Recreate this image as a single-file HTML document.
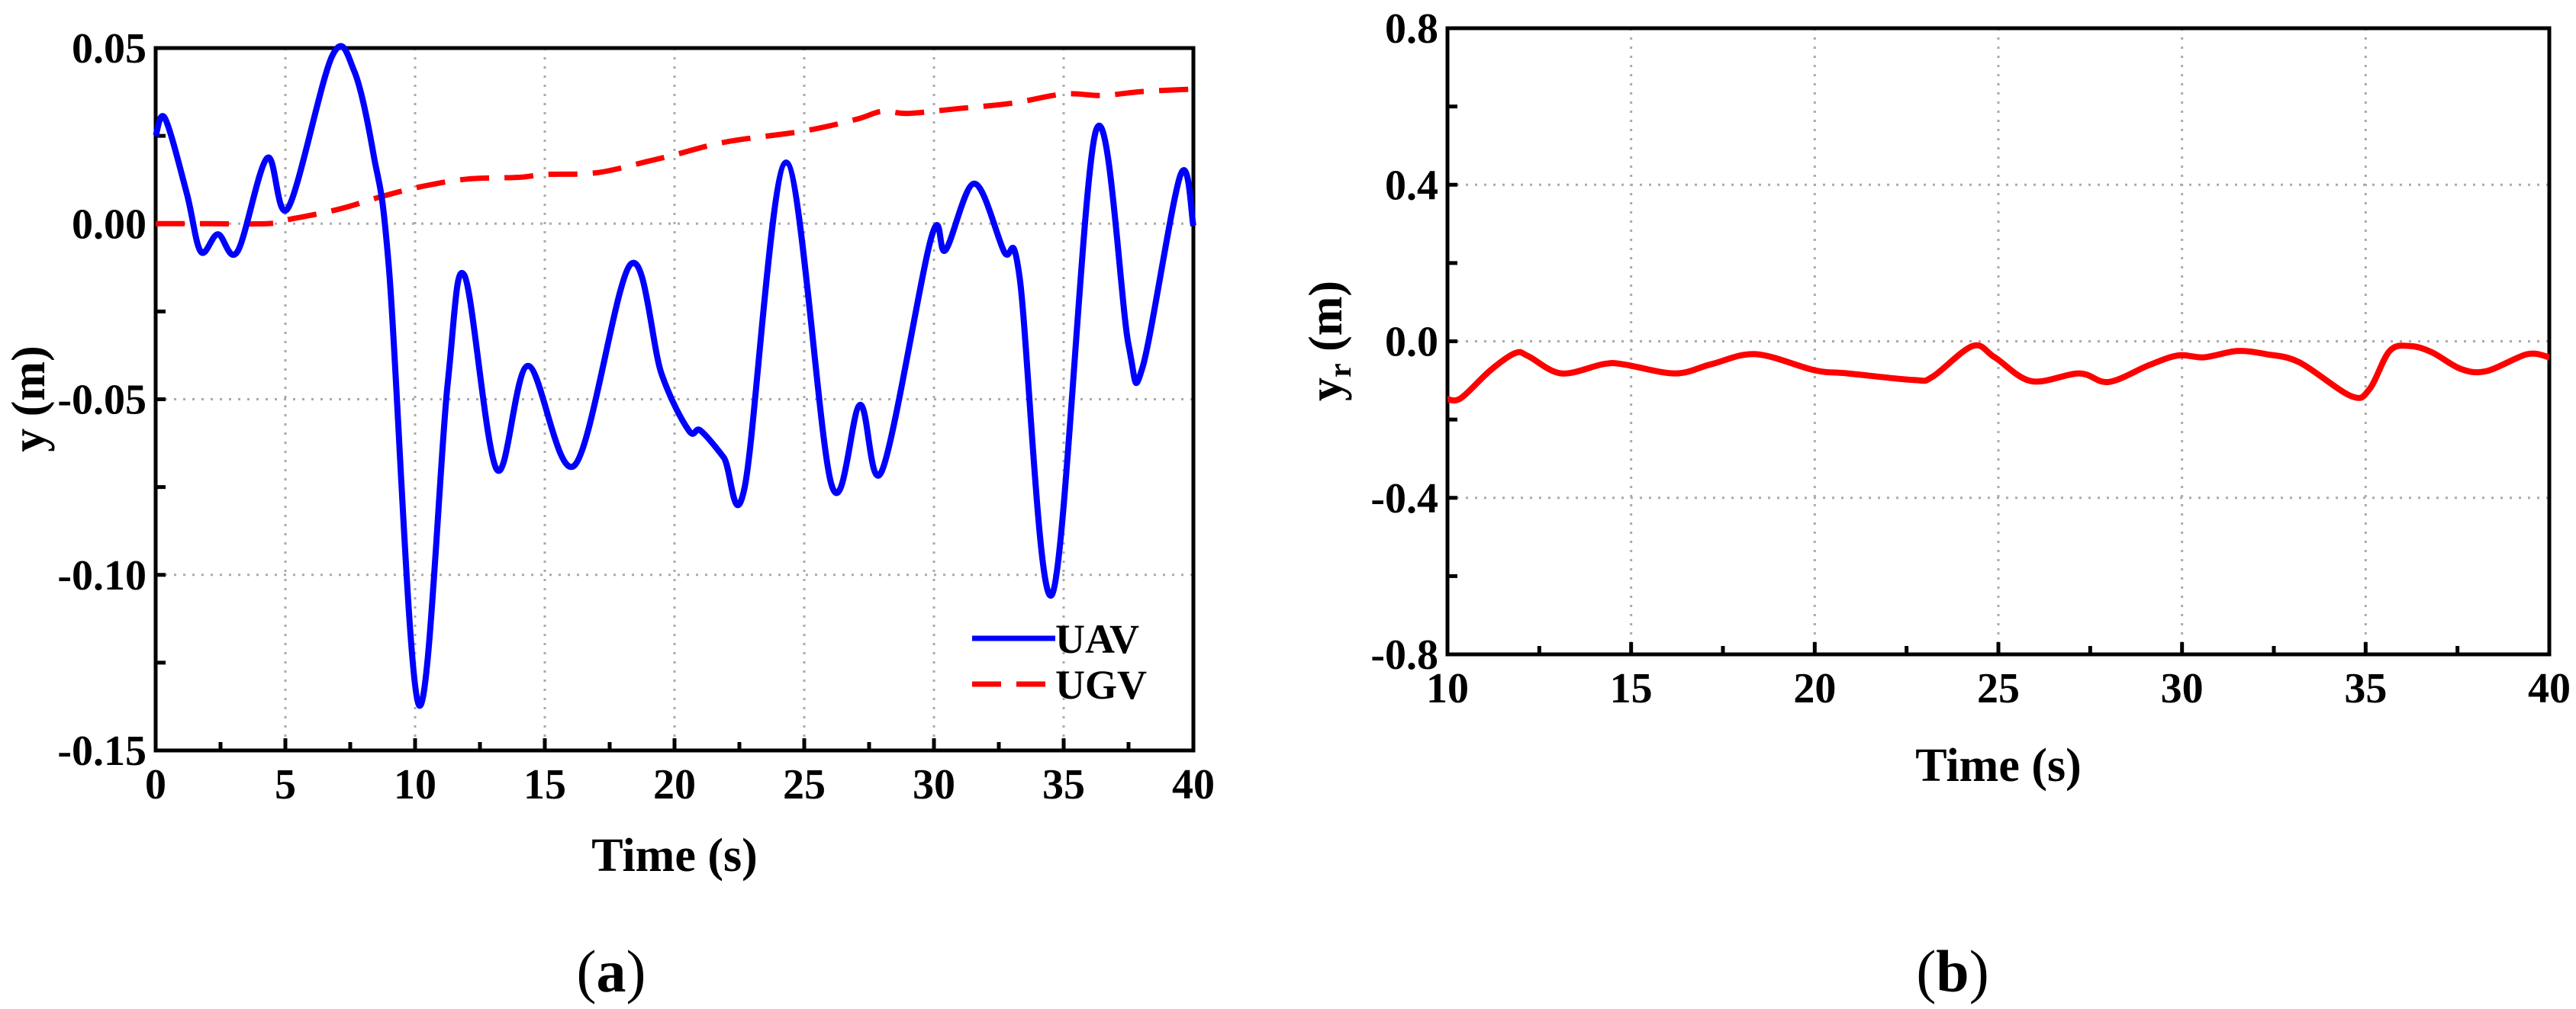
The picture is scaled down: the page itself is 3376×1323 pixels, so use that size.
<!DOCTYPE html>
<html><head><meta charset="utf-8"><style>
html,body{margin:0;padding:0;background:#fff}
svg{display:block}
text{font-family:"Liberation Serif",serif;font-weight:bold;fill:#000}
</style></head><body>
<svg id="fig" width="3376" height="1323" viewBox="0 0 3376 1323" xmlns="http://www.w3.org/2000/svg">
<g id="pa"></g>
<g id="pb"></g>
<text x="801" y="1300" font-size="78" text-anchor="middle"><tspan font-weight="normal">(</tspan>a<tspan font-weight="normal">)</tspan></text>
<text x="2559" y="1300" font-size="78" text-anchor="middle"><tspan font-weight="normal">(</tspan>b<tspan font-weight="normal">)</tspan></text>
</svg>
<script>
const uavT=[0,0.36,1.2,1.74,2.4,3.15,4.3,5.1,6.8,7.65,8.4,9,10.14,11.25,11.9,13.15,14.35,16.15,18.3,19.5,20.55,21,21.9,22.7,24.3,26.05,27.15,28,29.9,30.45,31.56,32.7,33.3,34.56,36.24,37.5,38.04,39.5,40];
const uavY=[0.025,0.030,0.0086,-0.008,-0.003,-0.008,0.0187,0.0044,0.0477,0.0435,0.0196,-0.0134,-0.137,-0.046,-0.0147,-0.070,-0.0405,-0.0688,-0.0116,-0.0428,-0.0589,-0.0589,-0.0666,-0.0752,0.0174,-0.0743,-0.0516,-0.0703,-0.0039,-0.0075,0.0114,-0.0079,-0.0152,-0.1055,0.0264,-0.0345,-0.0409,0.0138,-0.0006];
const ugvT=[0,2,4.3,5,7,8.7,10.2,12,14,15,17,19,20,22,25,27,28,29,31,33,35,36.5,38,40];
const ugvY=[0,0,0,0.001,0.004,0.0077,0.0105,0.0127,0.0132,0.014,0.0145,0.0178,0.0196,0.0233,0.0264,0.0297,0.032,0.0314,0.0328,0.0343,0.0369,0.0365,0.0376,0.0383];
const yrT=[10,10.37,11.17,11.85,12.2,13.1,14.26,14.8,16.2,17.2,18.4,20,20.9,22.7,23.2,24.3,24.9,25.9,27.2,28,29.1,29.9,30.6,31.5,32.3,33.2,34.6,35.1,35.65,36.2,36.8,37.6,38.3,39.4,40];
const yrY=[-0.148,-0.145,-0.074,-0.030,-0.038,-0.082,-0.058,-0.059,-0.082,-0.058,-0.033,-0.074,-0.082,-0.099,-0.091,-0.012,-0.041,-0.102,-0.082,-0.104,-0.061,-0.036,-0.041,-0.025,-0.033,-0.054,-0.140,-0.123,-0.025,-0.012,-0.028,-0.071,-0.076,-0.033,-0.041];
const aXTicks=[0,5,10,15,20,25,30,35,40];
const aYTicks=[0.05,0,-0.05,-0.10,-0.15];
const aYLabels=["0.05","0.00","-0.05","-0.10","-0.15"];
const bXTicks=[10,15,20,25,30,35,40];
const bYTicks=[0.8,0.4,0,-0.4,-0.8];
const bYLabels=["0.8","0.4","0.0","-0.4","-0.8"];

const NS="http://www.w3.org/2000/svg";
function mk(p,tag,at){const e=document.createElementNS(NS,tag);for(const k in at)e.setAttribute(k,at[k]);p.appendChild(e);return e;}
function smooth(xs,ys,sx,sy){
  const P=xs.map((x,i)=>[sx(x),sy(ys[i])]);
  let d="M"+P[0][0].toFixed(1)+","+P[0][1].toFixed(1);
  for(let i=0;i<P.length-1;i++){
    const p0=P[Math.max(i-1,0)],p1=P[i],p2=P[i+1],p3=P[Math.min(i+2,P.length-1)];
    const c1=[p1[0]+(p2[0]-p0[0])/6,p1[1]+(p2[1]-p0[1])/6];
    const c2=[p2[0]-(p3[0]-p1[0])/6,p2[1]-(p3[1]-p1[1])/6];
    d+="C"+c1.map(v=>v.toFixed(1))+" "+c2.map(v=>v.toFixed(1))+" "+p2[0].toFixed(1)+","+p2[1].toFixed(1);
  }
  return d;
}
function axes(g,L,R,T,B,x0,x1,y0,y1,xt,yt,ylab,xMinorStep,yMinorStep){
  const sx=v=>L+(v-x0)/(x1-x0)*(R-L), sy=v=>B-(v-y0)/(y1-y0)*(B-T);
  xt.forEach(v=>{const x=sx(v);if(v>x0&&v<x1){const l=mk(g,'line',{x1:x,x2:x,y1:T,y2:B,stroke:'#aaa','stroke-width':3,'stroke-dasharray':'3 9'});
    
    }});
  yt.forEach(v=>{const y=sy(v);if(v>y0&&v<y1){const l=mk(g,'line',{x1:L,x2:R,y1:y,y2:y,stroke:'#aaa','stroke-width':3,'stroke-dasharray':'3 9'});
    
    }});
  for(let v=x0;v<=x1+1e-9;v+=xMinorStep){const x=sx(v);const major=Math.abs(((v-x0)/(xMinorStep*2))%1)<1e-6;
    const t=mk(g,'line',{x1:x,x2:x,y1:B,y2:B-(major?16:11),stroke:'#000','stroke-width':5});
    
    }
  for(let v=y0;v<=y1+1e-9;v+=yMinorStep){const y=sy(v);
    const t=mk(g,'line',{x1:L,x2:L+13,y1:y,y2:y,stroke:'#000','stroke-width':5});
    
    }
  xt.forEach(v=>{const t=mk(g,'text',{x:sx(v),y:B+63,'font-size':56,'text-anchor':'middle'});t.textContent=String(v);
    
    });
  yt.forEach((v,i)=>{const t=mk(g,'text',{x:L-12,y:sy(v)+19,'font-size':56,'text-anchor':'end'});t.textContent=ylab[i];
    
    });
  const f=mk(g,'rect',{x:L,y:T,width:R-L,height:B-T,fill:'none',stroke:'#000','stroke-width':5});
  
  
  return {sx,sy};
}
// Panel a
const ga=document.getElementById('pa');
const A=axes(ga,204,1564,63,984,0,40,-0.15,0.05,aXTicks,aYTicks,aYLabels,2.5,0.025);
const ugv=mk(ga,'path',{d:smooth(ugvT,ugvY,A.sx,A.sy),fill:'none',stroke:'#f00','stroke-width':7,'stroke-dasharray':'38 20'});


const uav=mk(ga,'path',{d:smooth(uavT,uavY,A.sx,A.sy),fill:'none',stroke:'#00f','stroke-width':8});


let t=mk(ga,'text',{x:884,y:1142,'font-size':62,'text-anchor':'middle'});t.textContent='Time (s)';


t=mk(ga,'text',{x:0,y:0,'font-size':62,'text-anchor':'middle',transform:'translate(58,523) rotate(-90)'});t.textContent='y (m)';


let lg=mk(ga,'line',{x1:1274,x2:1383,y1:837,y2:837,stroke:'#00f','stroke-width':7});


lg=mk(ga,'line',{x1:1274,x2:1383,y1:897,y2:897,stroke:'#f00','stroke-width':7,'stroke-dasharray':'38 20'});


t=mk(ga,'text',{x:1383,y:856,'font-size':54});t.textContent='UAV';


t=mk(ga,'text',{x:1383,y:916,'font-size':54});t.textContent='UGV';


// Panel b
const gb=document.getElementById('pb');
const B2=axes(gb,1897,3341,37,858,10,40,-0.8,0.8,bXTicks,bYTicks,bYLabels,2.5,0.2);
const yr=mk(gb,'path',{d:smooth(yrT,yrY,B2.sx,B2.sy),fill:'none',stroke:'#f00','stroke-width':8});


t=mk(gb,'text',{x:2619,y:1024,'font-size':62,'text-anchor':'middle'});t.textContent='Time (s)';


t=mk(gb,'text',{x:0,y:0,'font-size':62,'text-anchor':'middle',transform:'translate(1758,447) rotate(-90)'});
t.innerHTML='y<tspan font-size="42" dy="12">r</tspan><tspan dy="-12"> (m)</tspan>';


</script>
</body></html>
